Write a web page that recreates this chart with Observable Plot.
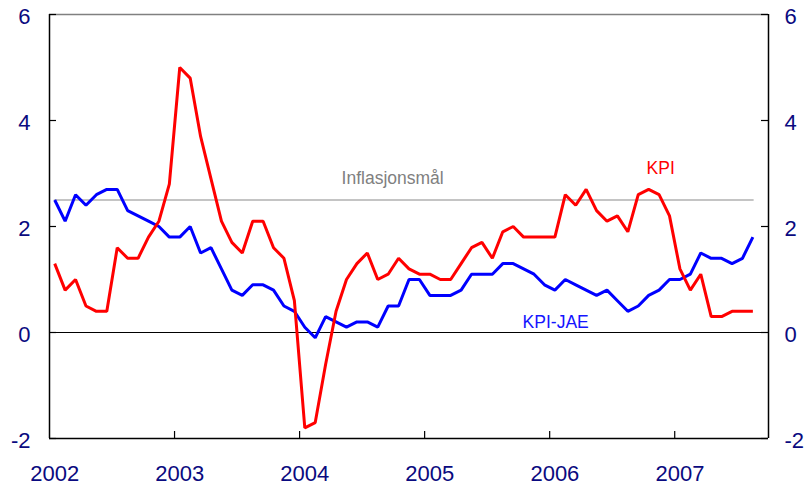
<!DOCTYPE html>
<html><head><meta charset="utf-8">
<script src="https://cdn.jsdelivr.net/npm/d3@7"></script>
<script src="https://cdn.jsdelivr.net/npm/@observablehq/plot@0.6"></script>
<style>html,body{margin:0;padding:0;background:#fff}</style>
</head><body><div id="chart"></div>
<script>
// Monthly data, Jan 2002 – Aug 2007 (12-month change, %)
const startYear = 2002;
const kpi = [
  1.3, 0.8, 1.0, 0.5, 0.4, 0.4, 1.6, 1.4, 1.4, 1.8, 2.1, 2.8,
  5.0, 4.8, 3.7, 2.9, 2.1, 1.7, 1.5, 2.1, 2.1, 1.6, 1.4, 0.6,
  -1.8, -1.7, -0.6, 0.4, 1.0, 1.3, 1.5, 1.0, 1.1, 1.4, 1.2, 1.1,
  1.1, 1.0, 1.0, 1.3, 1.6, 1.7, 1.4, 1.9, 2.0, 1.8, 1.8, 1.8,
  1.8, 2.6, 2.4, 2.7, 2.3, 2.1, 2.2, 1.9, 2.6, 2.7, 2.6, 2.2,
  1.2, 0.8, 1.1, 0.3, 0.3, 0.4, 0.4, 0.4
];
const kpiJae = [
  2.5, 2.1, 2.6, 2.4, 2.6, 2.7, 2.7, 2.3, 2.2, 2.1, 2.0, 1.8,
  1.8, 2.0, 1.5, 1.6, 1.2, 0.8, 0.7, 0.9, 0.9, 0.8, 0.5, 0.4,
  0.1, -0.1, 0.3, 0.2, 0.1, 0.2, 0.2, 0.1, 0.5, 0.5, 1.0, 1.0,
  0.7, 0.7, 0.7, 0.8, 1.1, 1.1, 1.1, 1.3, 1.3, 1.2, 1.1, 0.9,
  0.8, 1.0, 0.9, 0.8, 0.7, 0.8, 0.6, 0.4, 0.5, 0.7, 0.8, 1.0,
  1.0, 1.1, 1.5, 1.4, 1.4, 1.3, 1.4, 1.8
];
const target = 2.5;
const yearLabels = [2002, 2003, 2004, 2005, 2006, 2007];
const yearTicks = [2003, 2004, 2005, 2006, 2007];
const yTicks = [-2, 0, 2, 4, 6];
const xDomain = [2002, 2007.75];
const labels = [
  {text: "Inflasjonsmål", x: 2004.744, y: 2.9, color: "#808080"},
  {text: "KPI", x: 2006.888, y: 3.1, color: "#ff0000"},
  {text: "KPI-JAE", x: 2006.048, y: 0.2, color: "#1515ff"}
];

const data = kpi.map((v, i) => ({t: startYear + (i + 0.5) / 12, kpi: v, jae: kpiJae[i], target}));

const W = 810, H = 490, mL = 49, mR = 42, mT = 14, mB = 52;
const plotW = W - mL - mR, plotH = H - mT - mB;
const tickLen = 7;
const navy = "#0a0a80";
const font = '"Liberation Sans", Arial, Helvetica, sans-serif';
const fmt = d => String(d);

const chart = Plot.plot({
  width: W, height: H,
  marginLeft: mL, marginRight: mR, marginTop: mT, marginBottom: mB,
  x: {type: "linear", domain: xDomain, label: null},
  y: {domain: [-2, 6], label: null},
  style: {fontFamily: font, background: "white", overflow: "visible"},
  marks: [
    Plot.ruleY([6], {stroke: "#808080", strokeWidth: 1.5}),
    Plot.ruleY([0], {stroke: "black", strokeWidth: 1}),
    Plot.line(data, {x: "t", y: "target", stroke: "#c4c4c4", strokeWidth: 2}),
    Plot.line(data, {x: "t", y: "jae", stroke: "#0000ff", strokeWidth: 3, strokeLinejoin: "miter", strokeLinecap: "butt"}),
    Plot.line(data, {x: "t", y: "kpi", stroke: "#ff0000", strokeWidth: 3, strokeLinejoin: "miter", strokeLinecap: "butt"}),
    Plot.ruleY([-2], {stroke: "black", strokeWidth: 1.5}),
    Plot.ruleX(xDomain, {stroke: "black", strokeWidth: 1.5}),
    Plot.tickY(yTicks, {y: d => d, stroke: "black", strokeWidth: 1.2, insetRight: plotW - tickLen}),
    Plot.tickY(yTicks, {y: d => d, stroke: "black", strokeWidth: 1.2, insetLeft: plotW - tickLen}),
    Plot.tickX(yearTicks, {x: d => d, stroke: "black", strokeWidth: 1.2, insetTop: plotH - tickLen}),
    Plot.axisY({anchor: "left", ticks: yTicks, tickFormat: fmt, tickSize: 0, tickPadding: 19, fontSize: 22, color: navy, label: null, dy: 2}),
    Plot.axisY({anchor: "right", ticks: yTicks, tickFormat: fmt, tickSize: 0, tickPadding: 16, fontSize: 22, color: navy, label: null, dy: 2}),
    Plot.axisX({anchor: "bottom", ticks: yearLabels.map(y => y + 0.5 / 12), tickFormat: d => String(Math.floor(d)), tickSize: 0, tickPadding: 27, fontSize: 22, color: navy, label: null}),
    Plot.text(labels, {x: "x", y: "y", text: "text", fill: "color", fontSize: 17.5, fontFamily: font})
  ]
});
document.getElementById("chart").appendChild(chart);
</script>
</body></html>
